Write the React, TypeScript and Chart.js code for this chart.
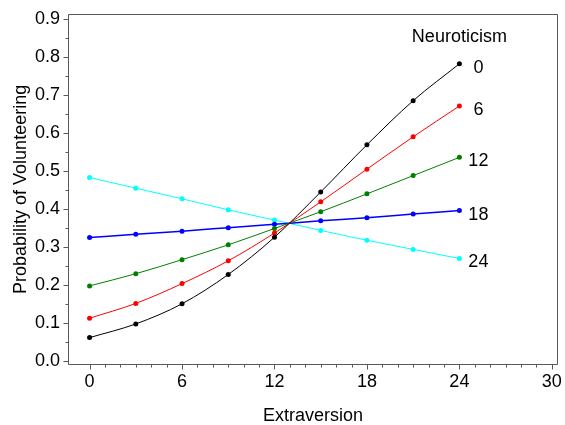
import React, { useEffect, useRef } from "react";
import { Chart, registerables } from "chart.js";

Chart.register(...registerables);

// ---- data ----
const extraversion = [0, 3, 6, 9, 12, 15, 18, 21, 24];
const neuroticismLevels = [0, 6, 12, 18, 24];
const probN0 = [0.061, 0.097, 0.150, 0.227, 0.325, 0.444, 0.568, 0.684, 0.781];
const probN6 = [0.112, 0.151, 0.203, 0.263, 0.336, 0.418, 0.504, 0.589, 0.670];
const probN12 = [0.197, 0.229, 0.266, 0.305, 0.348, 0.392, 0.439, 0.487, 0.535];
const probN18 = [0.324, 0.333, 0.341, 0.350, 0.359, 0.368, 0.376, 0.386, 0.395];
const probN24 = [0.482, 0.454, 0.426, 0.397, 0.370, 0.343, 0.317, 0.293, 0.269];
const seriesValues = [probN0, probN6, probN12, probN18, probN24];
const seriesColors = ["#000000", "#ff0000", "#008000", "#0000ff", "#00ffff"];
const xTickValues = [0, 6, 12, 18, 24, 30];
const yTickValues = [0, 0.1, 0.2, 0.3, 0.4, 0.5, 0.6, 0.7, 0.8, 0.9];
const legendTitle = "Neuroticism";
const xTitle = "Extraversion";
const yTitle = "Probability of Volunteering";

const FONT = "'Liberation Sans', Arial, Helvetica, sans-serif";
const AXIS_COLOR = "#595959";

const decorPlugin = {
  id: "decor",
  afterDraw(chart: any) {
    const { ctx, chartArea: a, scales } = chart;
    const xs = scales.x;
    const ys = scales.y;
    ctx.save();
    ctx.strokeStyle = AXIS_COLOR;
    ctx.lineWidth = 1;
    const L = Math.round(a.left) + 0.5;
    const R = Math.round(a.right) - 0.5;
    const T = Math.round(a.top) + 0.5;
    const B = Math.round(a.bottom) - 0.5;
    ctx.beginPath();
    ctx.rect(L, T, R - L, B - T);
    ctx.stroke();
    // x ticks: minor every 1, major every 6
    ctx.beginPath();
    for (let v = 0; v <= 30; v += 1) {
      const px = Math.round(xs.getPixelForValue(v)) + 0.5;
      const len = v % 6 === 0 ? 5 : 3;
      ctx.moveTo(px, B);
      ctx.lineTo(px, B + len);
    }
    // y ticks: minor every 0.05, major every 0.1
    for (let i = 0; i <= 18; i++) {
      const v = i * 0.05;
      const py = Math.round(ys.getPixelForValue(v)) + 0.5;
      const len = i % 2 === 0 ? 5 : 3;
      ctx.moveTo(L, py);
      ctx.lineTo(L - len, py);
    }
    ctx.stroke();

    // series labels
    ctx.fillStyle = "#000";
    ctx.font = `18px ${FONT}`;
    ctx.textAlign = "center";
    ctx.textBaseline = "middle";
    const lastX = extraversion[extraversion.length - 1];
    const lx = xs.getPixelForValue(lastX);
    ctx.fillText(legendTitle, lx, a.top + 23.5);
    neuroticismLevels.forEach((n, i) => {
      const vals = seriesValues[i];
      const py = ys.getPixelForValue(vals[vals.length - 1]);
      ctx.fillText(String(n), lx + 19, py + 4);
    });
    ctx.restore();
  },
};

export default function App() {
  const ref = useRef<HTMLCanvasElement | null>(null);
  useEffect(() => {
    if (!ref.current) return;
    const chart = new Chart(ref.current, {
      type: "line",
      data: {
        datasets: seriesValues.map((vals, i) => ({
          label: `N=${neuroticismLevels[i]}`,
          data: vals.map((v, j) => ({ x: extraversion[j], y: v })),
          borderColor: seriesColors[i],
          backgroundColor: seriesColors[i],
          borderWidth: i === 3 ? 1.5 : 1,
          pointRadius: 2.5,
          pointBorderWidth: 0,
          pointHoverRadius: 2.5,
          cubicInterpolationMode: "monotone" as const,
          fill: false,
        })),
      },
      options: {
        animation: false,
        responsive: false,
        maintainAspectRatio: false,
        events: [],
        layout: { padding: { top: 11, right: 7, left: 0, bottom: 0 } },
        plugins: {
          legend: { display: false },
          tooltip: { enabled: false },
        },
        scales: {
          x: {
            type: "linear",
            min: -1.4,
            max: 30.4,
            afterBuildTicks: (s: any) => {
              s.ticks = xTickValues.map((v) => ({ value: v }));
            },
            afterFit: (s: any) => {
              s.height = 60;
            },
            grid: { display: false, drawTicks: true, tickLength: 5 },
            border: { display: false },
            ticks: {
              autoSkip: false,
              maxRotation: 0,
              padding: 1,
              color: "#000",
              font: { family: FONT, size: 18 },
              callback: (v: any) => String(v),
            },
            title: {
              display: true,
              text: xTitle,
              color: "#000",
              font: { family: FONT, size: 18, lineHeight: 1 },
              padding: { top: 0, bottom: 0 },
            },
          },
          y: {
            type: "linear",
            min: -0.011,
            max: 0.9125,
            afterBuildTicks: (s: any) => {
              s.ticks = yTickValues.map((v) => ({ value: v }));
            },
            afterFit: (s: any) => {
              s.width = 68;
            },
            grid: { display: false, drawTicks: true, tickLength: 5 },
            border: { display: false },
            ticks: {
              autoSkip: false,
              padding: 3,
              color: "#000",
              font: { family: FONT, size: 18 },
              callback: (v: any) => Number(v).toFixed(1),
            },
            title: {
              display: true,
              text: yTitle,
              color: "#000",
              font: { family: FONT, size: 18, lineHeight: 1 },
              padding: { top: 12.5, bottom: 0 },
            },
          },
        },
      },
      plugins: [decorPlugin],
    } as any);
    return () => chart.destroy();
  }, []);
  return (
    <div style={{ position: "fixed", left: 0, top: 0, width: 565, height: 425, background: "#fff" }}>
      <canvas ref={ref} width={565} height={425} style={{ display: "block" }} />
    </div>
  );
}
